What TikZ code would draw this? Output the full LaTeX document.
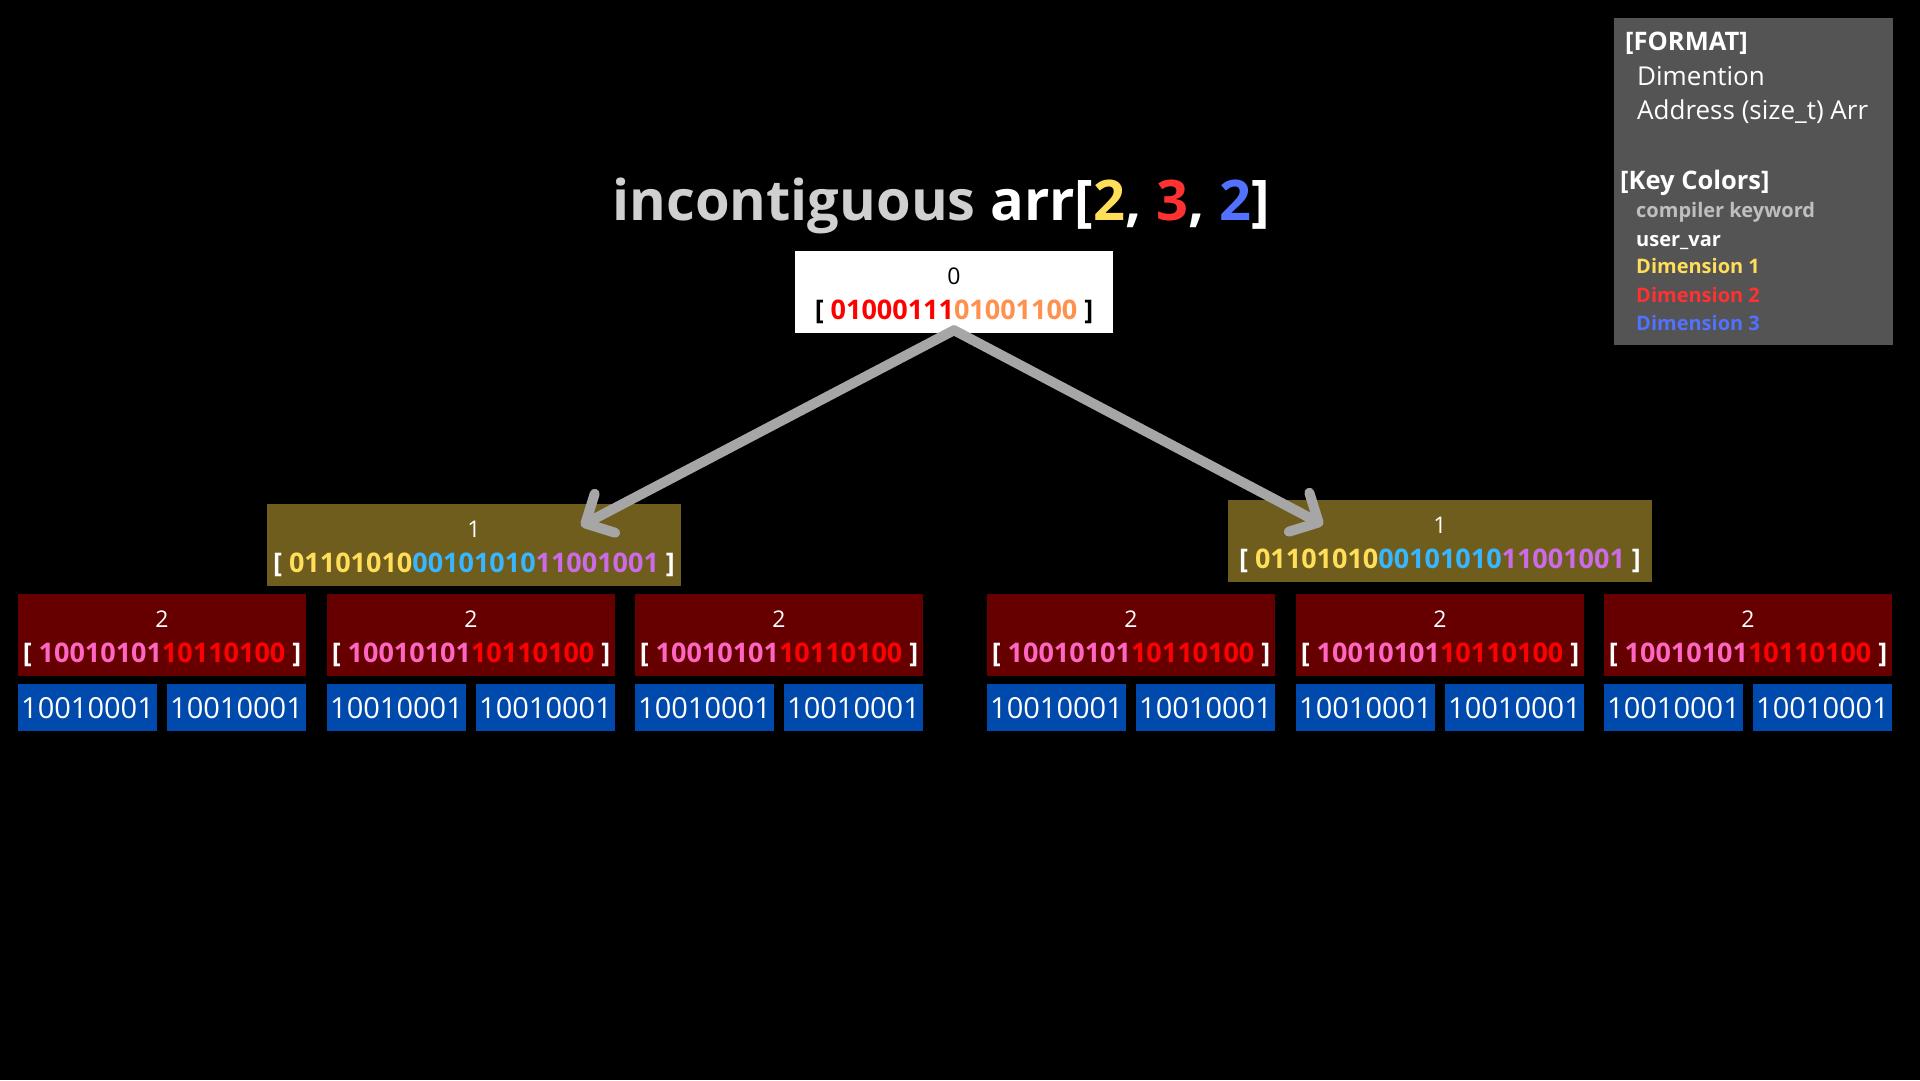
\documentclass[tikz,border=0pt]{standalone}
\usepackage{fontspec}
\setmainfont{Open Sans}
\usepackage{tikz}
\usetikzlibrary{arrows.meta}

\definecolor{boxolive}{HTML}{6F5D1E}
\definecolor{boxmaroon}{HTML}{660000}
\definecolor{boxblue}{HTML}{004AAD}
\definecolor{legendgray}{HTML}{545454}
\definecolor{arrowgray}{HTML}{A6A6A6}
\definecolor{kwgray}{HTML}{D0D0D0}
\definecolor{kwlegend}{HTML}{BFBFBF}
\definecolor{dimA}{HTML}{FFDE59}
\definecolor{dimB}{HTML}{FF3131}
\definecolor{dimC}{HTML}{5271FF}
\definecolor{bitred}{HTML}{FF0000}
\definecolor{bitorange}{HTML}{FF914D}
\definecolor{bitcyan}{HTML}{38B6FF}
\definecolor{bitpurple}{HTML}{CB6CE6}
\definecolor{bitpink}{HTML}{FF66C4}

\newcommand{\bitfont}{\fontsize{27}{35}\selectfont\bfseries}
\newcommand{\idxfont}{\fontsize{23}{35}\selectfont}
\newcommand{\idxstrut}{\rule{0pt}{25pt}}

\begin{document}
\begin{tikzpicture}[x=1pt, y=-1pt,
  box/.style={rectangle, inner sep=0pt, align=center, font=\idxfont},
  rootbox/.style={box, fill=white, minimum width=318pt, minimum height=82pt},
  levelone/.style={box, fill=boxolive, text=white, minimum height=82pt},
  leveltwo/.style={box, fill=boxmaroon, text=white, minimum width=288pt, minimum height=82pt},
  cell/.style={rectangle, inner sep=0pt, fill=boxblue, text=white,
    minimum width=139pt, minimum height=47pt, font=\fontsize{29}{34}\selectfont},
  legendtxt/.style={anchor=base west, inner sep=0pt, text=white},
  link/.style={arrowgray, line width=10pt, line cap=round,
    -{Straight Barb[length=22pt, width=44pt, round]}},
]

% -------------------------------------------------------
% 1. Background and title
% -------------------------------------------------------
\useasboundingbox (0,0) rectangle (1920,1080);
\fill[black] (0,0) rectangle (1920,1080);

\node[anchor=base, inner sep=0pt, text=white, font=\fontsize{56}{62}\selectfont\bfseries] (title) at (941,220)
  {\textcolor{kwgray}{incontiguous} arr[\textcolor{dimA}{2}, \textcolor{dimB}{3}, \textcolor{dimC}{2}]};

% -------------------------------------------------------
% 2. Dimension 0 (root address)
% -------------------------------------------------------
\node[rootbox] (root) at (954,292)
  {\idxstrut 0\\ {\bitfont [ \textcolor{bitred}{01000111}\textcolor{bitorange}{01001100} ]}};

% -------------------------------------------------------
% 3. Dimension 1 (two pointer arrays)
% -------------------------------------------------------
\node[levelone, minimum width=414pt] (dim1-L) at (474,545)
  {\idxstrut 1\\ {\bitfont [ \textcolor{dimA}{01101010}\textcolor{bitcyan}{00101010}\textcolor{bitpurple}{11001001} ]}};
\node[levelone, minimum width=424pt] (dim1-R) at (1440,541)
  {\idxstrut 1\\ {\bitfont [ \textcolor{dimA}{01101010}\textcolor{bitcyan}{00101010}\textcolor{bitpurple}{11001001} ]}};

% -------------------------------------------------------
% 4. Dimension 2 and the data cells
% -------------------------------------------------------
\foreach \i/\x in {1/162, 2/471, 3/779, 4/1131, 5/1440, 6/1748} {
  \node[leveltwo] (dim2-\i) at (\x,635)
    {\idxstrut 2\\ {\bitfont [ \textcolor{bitpink}{10010101}\textcolor{bitred}{10110100} ]}};
  \node[cell, anchor=north west] (cell\i-a) at ([yshift=-8pt]dim2-\i.south west) {10010001};
  \node[cell, anchor=north east] (cell\i-b) at ([yshift=-8pt]dim2-\i.south east) {10010001};
}

% -------------------------------------------------------
% 5. Pointers from the root
% -------------------------------------------------------
\coordinate (start) at ([yshift=3pt]root.south);
\coordinate (tipL) at ([shift={(107,22)}]dim1-L.north);
\coordinate (tipR) at ([shift={(-117,25)}]dim1-R.north);
\draw[link] (start) -- (tipL);
\draw[link] (start) -- (tipR);

% -------------------------------------------------------
% 6. Legend
% -------------------------------------------------------
\node[fill=legendgray, inner sep=0pt, minimum width=279pt, minimum height=327pt, anchor=north west] (legend) at (1614,18) {};
\node[legendtxt, font=\fontsize{25.5}{30}\selectfont\bfseries] (fmt) at (1625,50) {[FORMAT]};
\node[legendtxt, font=\fontsize{26}{30}\selectfont] (fmt-dim) at (1637,85) {Dimention};
\node[legendtxt, font=\fontsize{26}{30}\selectfont] (fmt-addr) at (1637,119) {Address (size\_t) Arr};
\node[legendtxt, font=\fontsize{25.5}{30}\selectfont\bfseries] (keys) at (1620,189) {[Key Colors]};
\node[legendtxt, text=kwlegend, font=\fontsize{20}{24}\selectfont\bfseries] (key-kw) at (1636,217) {compiler keyword};
\node[legendtxt, font=\fontsize{20}{24}\selectfont\bfseries] (key-var) at (1636,246) {user\_var};
\node[legendtxt, text=dimA, font=\fontsize{20}{24}\selectfont\bfseries] (key-d1) at (1636,273) {Dimension 1};
\node[legendtxt, text=dimB, font=\fontsize{20}{24}\selectfont\bfseries] (key-d2) at (1636,302) {Dimension 2};
\node[legendtxt, text=dimC, font=\fontsize{20}{24}\selectfont\bfseries] (key-d3) at (1636,330) {Dimension 3};

\end{tikzpicture}
\end{document}
